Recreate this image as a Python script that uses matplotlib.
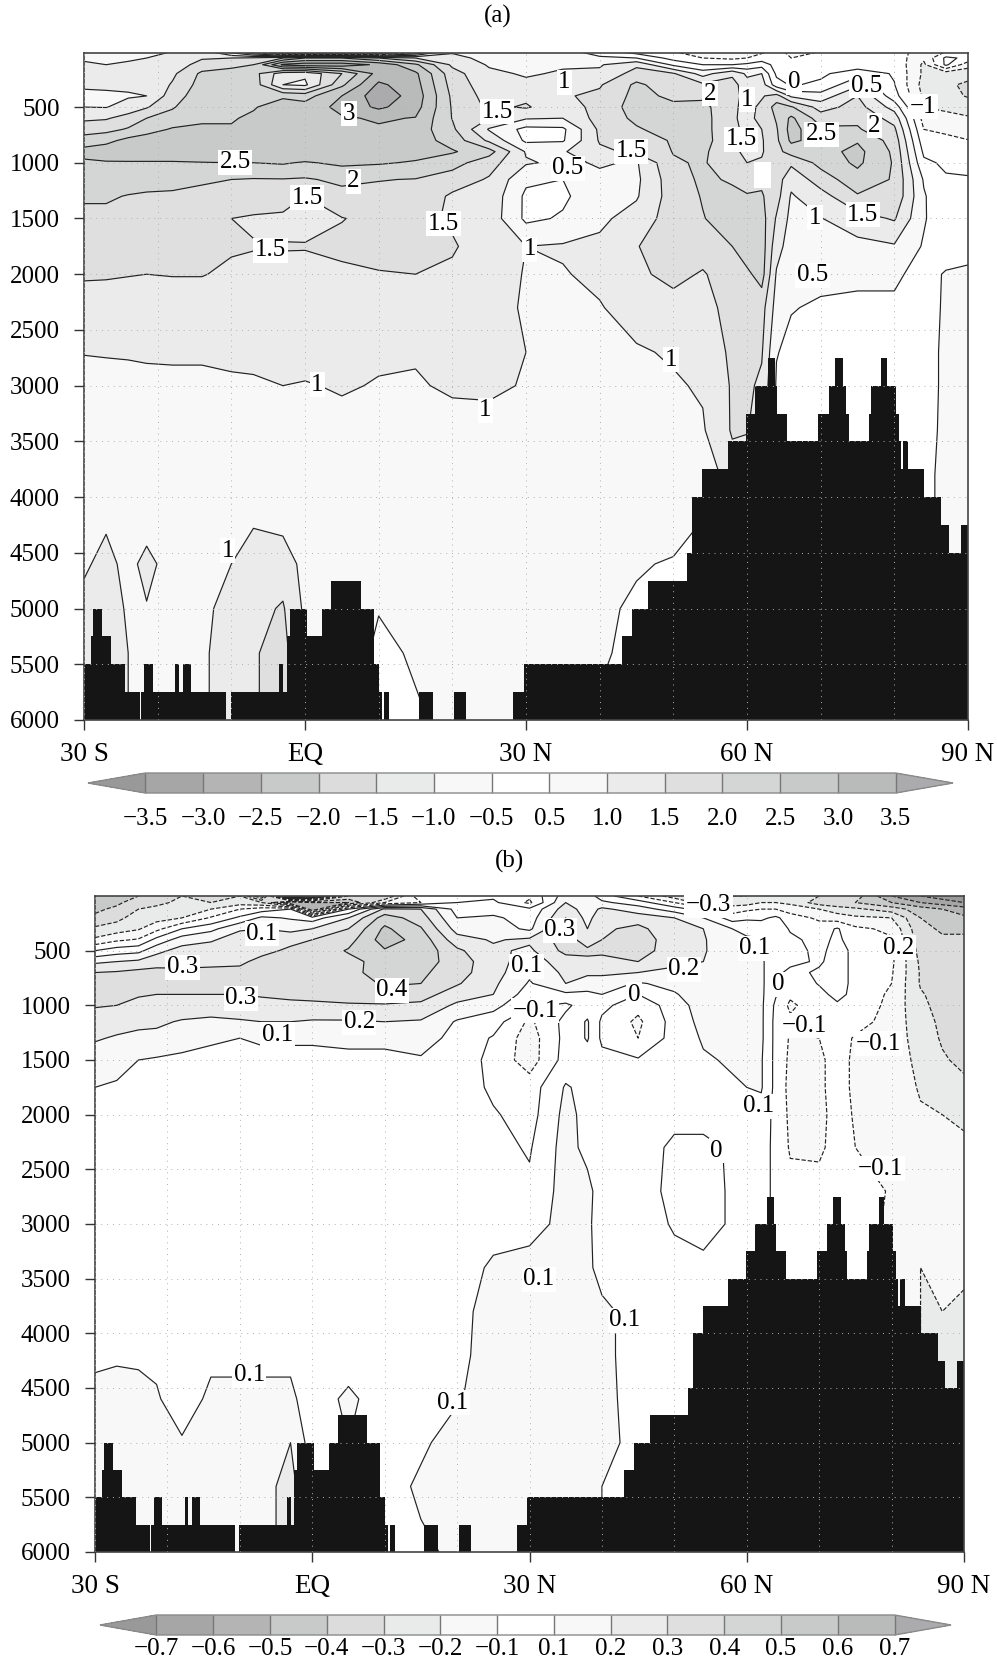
from matplotlib import pyplot as plt
import matplotlib.patches as mpatches
import numpy as np

plt.rcParams['font.family'] = ['Liberation Serif', 'DejaVu Serif']

W, H = 997, 1663

depth = [0, 60, 120, 200, 300, 400, 500, 600, 700, 800, 900, 1000, 1150, 1300, 1500, 1750, 2000,
         2300, 2700, 3000, 3400, 3800, 4200, 4600, 5000, 5400, 6000]

lon_a = [-30, -27, -24, -21.5, -18, -14, -10, -7, -3, 0, 5, 10, 15, 20, 25, 30, 35, 40, 45, 50, 54,
         58, 60, 62, 64, 66, 70, 75, 80, 84, 87, 90]

# one line per latitude, top to bottom in depth
field_a = [
    [.9, .95, 1.05, 1.1, 1.1, .85, 1.0, 1.4, 1.8, 2.2, 2.7, 2.4, 2.2, 2.05, 1.9, 1.7, 1.55, 1.3, 1.01, .9, .8, .75, .9, .95, 1.1, 1.1, 1.1],
    [.9, .95, 1.0, 1.1, 1.1, .9, .98, 1.45, 1.85, 2.35, 2.8, 2.45, 2.2, 2.05, 1.9, 1.7, 1.55, 1.25, 1.02, .9, .85, .8, .95, 1.1, 1.2, 1.2, 1.2],
    [.95, .95, 1.05, 1.15, 1.1, .95, 1.2, 1.7, 2.05, 2.65, 2.85, 2.45, 2.2, 1.98, 1.85, 1.65, 1.52, 1.25, 1.03, .9, .85, .8, .8, .9, .95, 1.0, 1.0],
    [1.0, 1.0, 1.1, 1.15, 1.1, 1.0, 1.45, 2.0, 2.3, 2.75, 2.85, 2.45, 2.15, 1.95, 1.85, 1.65, 1.5, 1.25, 1.05, .9, .85, .8, .85, 1.1, .98, .9, .9],
    [1.0, 1.05, 1.2, 1.4, 1.55, 1.75, 1.95, 2.2, 2.55, 2.8, 2.85, 2.45, 2.1, 1.95, 1.85, 1.65, 1.52, 1.25, 1.05, .92, .85, .8, .8, .85, .9, .95, .95],
    [1.2, 1.45, 1.7, 2.1, 2.2, 2.3, 2.4, 2.45, 2.55, 2.8, 2.85, 2.48, 2.05, 1.9, 1.8, 1.6, 1.52, 1.25, 1.05, .92, .85, .8, .85, 1.0, .9, .95, .95],
    [.2, 1.5, 1.9, 2.15, 2.2, 2.3, 2.4, 2.45, 2.55, 2.85, 2.9, 2.5, 2.0, 1.85, 1.5, 1.55, 1.42, 1.25, 1.07, .95, .85, .82, .85, 1.0, 1.15, 1.15, 1.15],
    [-1, 1.6, 2, 2.2, 2.3, 2.35, 2.45, 2.6, 2.8, 2.9, 2.9, 2.5, 1.97, 1.75, 1.45, 1.52, 1.4, 1.22, 1.1, .95, .85, .82, .95, 1.2, 1.35, 1.45, 1.45],
    [-3, 2, 3.6, 1.2, 1.0, 2.4, 2.8, 2.85, 2.9, 2.95, 2.95, 2.55, 1.98, 1.75, 1.4, 1.52, 1.4, 1.25, 1.1, 1.0, .85, .82, .85, 1.25, 1.55, 1.7, 1.7],
    [-3.2, 2.5, 3.8, 1.1, .9, 2.3, 2.7, 2.9, 2.95, 2.95, 2.95, 2.45, 1.95, 1.5, 1.38, 1.52, 1.38, 1.25, 1.12, .98, .88, .82, .82, .85, .9, .9, .9],
    [-3, 2.5, 3.8, 2, 2.4, 3, 3.15, 2.95, 2.9, 2.85, 2.85, 2.6, 2.1, 1.85, 1.48, 1.62, 1.4, 1.25, 1.12, 1.03, .9, .85, .82, .8, .8, .8, .8],
    [-3, 2, 3.4, 3.2, 3.6, 3.8, 3.6, 3.05, 2.95, 2.9, 2.85, 2.55, 2.02, 1.85, 1.65, 1.62, 1.48, 1.25, 1.05, .98, .9, .85, .8, .75, .52, .4, .35],
    [-1, 1.5, 2.6, 3.1, 3.2, 3.3, 3.2, 2.98, 2.8, 2.75, 2.7, 2.45, 1.98, 1.85, 1.65, 1.6, 1.5, 1.25, 1.02, .98, .85, .75, .7, .65, .6, .55, .45],
    [.9, 1.2, 1.4, 1.7, 1.8, 1.9, 1.95, 1.98, 2.1, 2.3, 2.55, 2.2, 1.75, 1.42, 1.43, 1.55, 1.42, 1.15, 1.08, 1.03, .92, .7, .65, .65, .62, .6, .6],
    [.6, .8, .95, 1.1, 1.2, 1.3, 1.4, 1.5, .95, 1.4, 2.2, 1.7, 1.45, 1.35, 1.3, 1.25, 1.15, 1.1, 1.12, 1.05, .9, .8, .75, .7, .65, .6, .6],
    [.6, .8, .9, .95, 1.1, 1.4, 1.55, 1.05, .35, .4, .95, 1.05, .6, .4, .4, 1.0, .98, .97, 1.0, .98, .9, .85, .8, .75, .7, .65, .6],
    [.7, .85, .95, 1.05, 1.2, 1.45, 1.2, 1.0, .4, .45, .95, .9, .5, .42, .55, 1.05, .97, .95, .92, .9, .85, .8, .75, .7, .65, .6, .6],
    [.2, .6, .95, 1.1, 1.45, 1.6, 1.7, 1.7, 1.6, 1.55, 1.4, 1.05, .9, .8, .9, 1.1, 1.1, .97, .9, .85, .8, .75, .7, .65, .6, .55, .45],
    [-.3, .5, 1.4, 1.7, 2.1, 2.15, 2.2, 2.1, 1.95, 1.75, 1.6, .95, .9, .95, 1.2, 1.48, 1.4, 1.2, .95, .9, .85, .8, .75, .55, .42, .4, .4],
    [-.5, -.2, .4, 1.55, 1.7, 1.9, 2.1, 2.2, 2.2, 2.05, 2.02, 1.95, 1.8, 1.75, 1.75, 1.75, 1.65, 1.3, 1.05, .95, .85, .8, .75, .45, .4, .4, .4],
    [-.8, -.5, 0, .8, 1.6, 1.9, 2.15, 2.2, 2.2, 2.2, 2.1, 2.05, 2.08, 2.03, 1.98, 1.75, 1.45, 1.3, 1.15, 1.05, .95, .6, .5, .45, .4, .4, .4],
    [-1, -.6, 0, 1.4, 1.7, 1.7, 1.6, 1.55, 1.55, 1.6, 1.6, 1.7, 1.95, 2.1, 2.2, 2.0, 1.8, 1.7, 1.6, 1.55, 1.55, 1.3, .8, .7, .6, .5, .5],
    [-.8, -.5, .1, .9, 1.2, 1.3, 1.35, 1.4, 1.45, 1.4, 1.4, 1.5, 1.75, 2.05, 2.2, 2.3, 1.9, 1.7, 1.65, 1.6, 1.55, 1, .8, .7, .6, .5, .5],
    [-.6, -.3, .3, 1.0, 1.25, 1.45, 1.6, 1.6, 1.5, 1.45, 1.45, 1.55, 1.9, 2.05, 2.2, 2.25, 2.2, 1.7, 1.55, 1.4, 1.0, .8, .7, .6, .5, .5, .5],
    [-.4, -.3, -.2, -.1, .2, 1.7, 2.2, 2.05, 1.95, 1.9, 1.85, 1.8, 1.75, 1.7, 1.45, 1.2, .95, .8, .52, .45, .4, .4, .4, .4, .4, .4, .4],
    [-.6, -.5, -.4, -.2, -.05, .9, 2.05, 2.6, 2.7, 2.6, 2.2, 1.6, 1.15, .95, .85, .75, .65, .52, .4, .35, .3, .3, .3, .3, .3, .3, .3],
    [-.5, -.4, -.3, -.1, .1, .7, 1.3, 1.75, 2.1, 2.3, 2.3, 2.15, 1.75, 1.3, .98, .8, .6, .45, .35, .3, .3, .3, .3, .3, .3, .3, .3],
    [-.5, -.4, -.3, .3, .9, 1.5, 1.7, 1.9, 2.05, 2.45, 2.65, 2.6, 2.3, 1.95, 1.3, .85, .55, .45, .35, .3, .3, .3, .3, .3, .3, .3, .3],
    [-.2, -.2, -.1, -.05, .02, .2, .8, 1.3, 1.6, 1.8, 1.9, 1.95, 1.95, 1.9, 1.55, .95, .6, .4, .3, .3, .3, .3, .3, .3, .3, .3, .3],
    [-.8, -.9, -1.1, -1.1, -1.2, -1.1, -1.0, -.7, -.5, -.3, -.1, .1, .45, .55, .55, .45, .3, .35, .4, .4, .42, .45, .45, .45, .45, .45, .45],
    [-.5, .1, .1, -1.3, -1.4, -1.3, -1.1, -.85, -.58, -.4, -.25, -.08, .05, .1, .15, .2, .55, .55, .55, .55, .55, .55, .55, .55, .55, .55, .55],
    [-.5, -.1, -.8, -1.3, -1.6, -1.55, -1.2, -.95, -.75, -.48, -.3, -.1, .03, .1, .2, .4, .55, .6, .6, .6, .6, .6, .6, .6, .6, .6, .6],
]

lon_b = [-30, -27, -24, -21.5, -18, -14, -10, -7, -3, 0, 5, 10, 15, 20, 25, 30, 35, 38, 40, 45, 50, 54,
         58, 60, 62, 64, 66, 70, 72.5, 75, 80, 84, 87, 90]

field_b = [
    [-.5, -.45, -.42, -.38, -.28, -.18, 0, .18, .3, .36, .38, .31, .24, .21, .15, .1, .08, .07, .06, .05, .05, .06, .08, .13, .13, .13, .13],
    [-.45, -.42, -.38, -.33, -.25, -.12, .05, .2, .31, .36, .36, .3, .24, .19, .13, .09, .07, .07, .06, .05, .05, .06, .09, .13, .13, .13, .13],
    [-.4, -.35, -.3, -.25, -.21, -.09, .07, .22, .33, .36, .31, .27, .22, .18, .1, .08, .07, .07, .06, .05, .05, .06, .09, .12, .12, .12, .12],
    [-.35, -.32, -.28, -.24, -.13, .03, .17, .26, .33, .37, .3, .27, .22, .17, .09, .07, .07, .07, .06, .05, .05, .06, .08, .11, .13, .13, .13],
    [-.3, -.28, -.25, -.2, 0, .15, .24, .27, .32, .37, .3, .27, .19, .12, .09, .07, .07, .07, .06, .05, .05, .05, .05, .05, .11, .12, .12],
    [-.35, -.3, -.2, -.09, .07, .19, .24, .27, .33, .37, .3, .25, .18, .11, .08, .06, .06, .06, .05, .05, .05, .05, .08, .12, .12, .12, .12],
    [-.3, -.25, -.1, .02, .19, .24, .26, .28, .33, .37, .3, .26, .19, .1, .08, .06, .06, .06, .05, .05, .05, .05, .08, .12, .12, .12, .12],
    [-.6, -.3, -.05, .12, .2, .24, .27, .33, .35, .38, .31, .27, .2, .11, .08, .07, .06, .06, .05, .05, .05, .05, .08, .12, .14, .15, .15],
    [.5, -.6, 0, .09, .17, .27, .32, .33, .35, .38, .33, .27, .2, .11, .08, .07, .06, .06, .05, .05, .05, .05, .08, .12, .2, .25, .25],
    [.3, -.5, -.6, .05, .2, .3, .33, .34, .36, .38, .33, .28, .19, .11, .08, .07, .06, .06, .05, .05, .05, .05, .05, .05, .05, .05, .05],
    [-.3, -.5, 0, .2, .3, .36, .41, .37, .38, .36, .34, .29, .19, .12, .08, .07, .06, .06, .05, .05, .05, .05, .05, .12, .1, .05, .05],
    [-.4, -.2, .32, .45, .52, .55, .49, .44, .43, .41, .37, .29, .2, .12, .08, .06, .05, .05, .05, .05, .05, .05, .05, .05, .08, .05, .05],
    [-.02, -.1, .3, .35, .41, .46, .47, .45, .42, .4, .34, .28, .19, .14, .09, .07, .06, .05, .05, .05, .05, .04, .04, .04, .08, .12, .08],
    [-.05, 0, .06, .1, .16, .24, .32, .35, .34, .31, .25, .18, .09, .07, .06, .06, .05, .05, .04, .04, .04, .06, .07, .09, .15, .12, .12],
    [-.02, .02, .05, .12, .15, .19, .22, .24, .24, .22, .2, .13, .05, -.01, -.03, -.02, .01, .03, .04, .05, .12, .15, .15, .15, .15, .15, .15],
    [-.08, -.12, .02, .05, .08, .22, .18, .15, .12, .09, .05, .02, -.12, -.15, -.15, -.05, -.04, -.01, .02, .05, .15, .15, .15, .15, .15, .15, .15],
    [.15, .2, .25, .3, .33, .35, .33, .25, .22, .2, .08, -.02, .03, .03, .04, .11, .13, .14, .14, .14, .15, .15, .15, .15, .15, .15, .15],
    [.15, .15, .15, .17, .2, .25, .32, .28, .22, .15, .08, .05, .11, .11, .05, .07, .07, .07, .13, .12, .13, .13, .13, .13, .13, .13, .13],
    [.05, .12, .22, .26, .28, .3, .32, .27, .22, .15, .1, .03, -.02, -.02, .03, .05, .05, .05, .05, .05, .05, .13, .13, .13, .13, .1, .1],
    [-.1, .05, .15, .25, .33, .36, .35, .3, .2, .09, 0, -.07, -.12, -.1, .01, .03, .05, .05, .05, .05, .05, .05, .05, .06, .07, .05, .05],
    [-.25, -.1, .05, .2, .22, .24, .24, .22, .18, .13, .09, .05, .04, .04, .04, .03, .03, -.02, -.03, -.01, .03, .03, .03, .03, .03, .03, .03],
    [-.32, -.25, -.05, .1, .2, .21, .21, .2, .18, .17, .16, .15, .13, .11, .09, .04, .03, -.02, -.03, -.03, .02, .03, .03, .03, .03, .03, .03],
    [-.3, -.25, -.15, -.05, .1, .12, .13, .13, .13, .13, .12, .12, .12, .12, .11, .09, .03, .01, .01, .01, .03, .03, .03, .03, .03, .03, .03],
    [-.3, -.25, -.12, -.02, .08, .11, .13, .12, .11, .12, .12, .12, .12, .12, .11, .1, .05, .05, .05, .05, .05, .05, .05, .05, .05, .05, .05],
    [-.25, -.2, -.1, -.02, .06, .11, .12, .12, .12, .12, .12, .12, .12, .12, .11, .11, .06, .05, .05, .05, .05, .05, .05, .05, .05, .05, .05],
    [-.25, -.2, -.1, .02, .06, .03, .03, .02, .02, .02, .01, -.02, -.03, -.03, -.03, -.03, -.03, -.03, -.03, -.03, -.03, -.03, -.03, -.03, -.03, -.03, -.03],
    [-.25, -.22, -.15, -.05, -.01, .02, .03, .02, -.02, -.05, -.08, -.12, -.08, -.11, -.12, -.13, -.12, -.11, -.07, -.05, -.04, -.04, -.04, -.04, -.04, -.04, -.04],
    [-.3, -.35, -.2, -.12, -.05, -.03, -.02, -.01, .01, .005, -.02, -.04, -.08, -.1, -.12, -.12, -.13, -.12, -.06, -.04, -.04, -.04, -.04, -.04, -.04, -.04, -.04],
    [-.3, -.38, -.25, -.15, .01, .02, .03, .03, .03, .03, .02, -.01, -.05, -.06, -.06, -.06, -.06, -.06, -.05, -.05, -.05, -.05, -.05, -.05, -.05, -.05, -.05],
    [-.35, -.4, -.28, -.18, -.08, -.05, -.02, -.02, -.02, -.02, -.02, -.03, -.06, -.11, -.12, -.12, -.11, -.1, -.05, -.05, -.05, -.05, -.05, -.05, -.05, -.05, -.05],
    [-.6, -.5, -.35, -.2, -.12, -.09, -.08, -.08, -.09, -.1, -.12, -.13, -.14, -.14, -.14, -.14, -.13, -.13, -.11, -.12, -.12, -.12, -.12, -.12, -.12, -.12, -.12],
    [-.7, -.6, -.45, -.4, -.38, -.36, -.34, -.32, -.31, -.31, -.29, -.28, -.26, -.25, -.23, -.21, -.19, -.15, -.14, -.18, -.2, -.2, -.2, -.2, -.2, -.2, -.2],
    [-.75, -.65, -.5, -.45, -.41, -.39, -.37, -.36, -.35, -.34, -.34, -.33, -.32, -.31, -.29, -.24, -.2, -.17, -.15, -.15, -.17, -.2, -.2, -.2, -.2, -.2, -.2],
    [-.8, -.7, -.55, -.48, -.42, -.38, -.37, -.36, -.35, -.35, -.34, -.34, -.33, -.33, -.32, -.28, -.22, -.18, -.15, -.15, -.18, -.22, -.2, -.2, -.2, -.2, -.2],
]

# sea floor steps, same in both panels
bathy_edges = [-30, -29.1, -28.8, -27.5, -26.3, -24.4, -22.4, -22.2, -21.9, -20.7, -17.6, -17.1, -16.6, -15.5,
               -10.7, -10.1, -3.5, -3.0, -2.5, -2.05, 0.3, 2.25, 3.5, 7.6, 9.3, 10.1, 10.4, 10.7, 11.4, 15.5,
               17.4, 20.2, 21.9, 28.3, 29.7, 43.0, 44.4, 46.6, 51.9, 52.6, 53.9, 57.4, 59.9, 61.1, 62.8, 63.8,
               64.1, 65.4, 69.7, 71.1, 71.9, 73.0, 73.5, 73.8, 76.6, 76.9, 78.2, 79.0, 80.2, 80.6, 80.9, 81.2,
               81.9, 84.0, 86.4, 87.4, 89.0, 90]
bathy_depth = [5500, 5250, 5000, 5250, 5500, 5750, 6000, 5750, 5500, 5750, 5500, 5750, 5500,
               5750, 6000, 5750, 5500, 5750, 5250, 5000, 5250, 5000, 4750, 5000, 5500, 5750, 6000, 5750, 6000,
               5750, 6000, 5750, 6000, 5750, 5500, 5250, 5000, 4750, 4500, 4000, 3750, 3500, 3250, 3000, 2750,
               3000, 3250, 3500, 3250, 3000, 2750, 3000, 3250, 3500, 3250, 3000, 2750, 3000, 3250, 3500, 3750,
               3500, 3750, 4000, 4250, 4500, 4250]

levels_a = [-3.5, -3.0, -2.5, -2.0, -1.5, -1.0, -0.5, 0.5, 1.0, 1.5, 2.0, 2.5, 3.0, 3.5]
levels_b = [-0.7, -0.6, -0.5, -0.4, -0.3, -0.2, -0.1, 0.1, 0.2, 0.3, 0.4, 0.5, 0.6, 0.7]
lines_a = [-3.5, -3.0, -2.5, -2.0, -1.5, -1.0, -0.5, 0, 0.5, 1.0, 1.5, 2.0, 2.5, 3.0, 3.5]
lines_b = [-0.7, -0.6, -0.5, -0.4, -0.3, -0.2, -0.1, 0, 0.1, 0.2, 0.3, 0.4, 0.5, 0.6, 0.7]
greys = ['#999999', '#a6a6a6', '#b4b4b4', '#c8caca', '#dcdcdc', '#e9ebea', '#f8f8f8', '#ffffff',
         '#f8f8f8', '#ebebeb', '#dfdfdf', '#d4d6d6', '#c8caca', '#b9bbbb', '#ababad']

xticks = [-30, 0, 30, 60, 90]
xticklabels = ['30 S', 'EQ', '30 N', '60 N', '90 N']
yticks = [500, 1000, 1500, 2000, 2500, 3000, 3500, 4000, 4500, 5000, 5500, 6000]

labels_a = [('3', 6.0, 562), ('2.5', -9.5, 997), ('2', 6.6, 1168), ('1.5', 0.3, 1312), ('1.5', -4.7, 1786),
            ('1.5', 18.8, 1546), ('1.5', 26.1, 541), ('1', 35.2, 277), ('2', 55, 382), ('1', 60, 436),
            ('0', 66.4, 277), ('0.5', 76.2, 307), ('\u22121', 83.9, 496), ('1.5', 59.2, 787), ('2.5', 70.1, 742),
            ('2', 77.3, 667), ('1.5', 44.3, 898), ('0.5', 35.7, 1048), ('1', 69.2, 1492), ('1.5', 75.7, 1468),
            ('1', 30.5, 1777), ('0.5', 68.9, 2011), ('1', 49.7, 2767), ('1', 1.7, 2992), ('1', 24.5, 3220),
            ('1', -10.5, 4481)]
labels_b = [('0.1', -6.95, 345), ('0.3', -17.9, 651), ('0.3', -9.85, 935), ('0.4', 11, 864), ('0.2', 6.5, 1155),
            ('0.1', -4.8, 1271), ('0.3', 34.2, 315), ('\u22120.3', 54.7, 85), ('0.1', 61.1, 476), ('0.2', 81, 473),
            ('0.1', 29.6, 641), ('0.2', 51.3, 672), ('0', 64.4, 809), ('0', 44.4, 904), ('\u22120.1', 30.8, 1048),
            ('\u22120.1', 67.9, 1185), ('\u22120.1', 78.2, 1353), ('0.1', 61.6, 1925), ('0', 55.8, 2331),
            ('\u22120.1', 78.5, 2493), ('0.1', 31.3, 3507), ('0.1', 43.2, 3879), ('0.1', -8.7, 4384),
            ('0.1', 19.4, 4634)]


def axes_px(left, top, right, bottom):
    return fig.add_axes([left / W, 1 - bottom / H, (right - left) / W, (bottom - top) / H])


def draw_panel(box, lon, field, levels, lines, labels, top):
    ax = axes_px(*box)
    z = np.array(field).T
    cf = ax.contourf(lon, depth, z, levels=levels, colors=greys, extend='both', zorder=1)
    ax.contour(lon, depth, z, levels=lines, colors='#222222', linewidths=0.85, zorder=2)
    ax.bar(bathy_edges[:-1], 6000 - np.array(bathy_depth), width=np.diff(bathy_edges), bottom=bathy_depth,
           align='edge', color='#151515', linewidth=0, zorder=2.2)
    ax.set_xlim(-30, 90)
    ax.set_ylim(6000, top)
    ax.set_xticks(xticks)
    ax.set_xticklabels(xticklabels, fontsize=19.5)
    ax.set_xticks(range(-30, 100, 10), minor=True)
    ax.set_yticks(yticks)
    ax.set_yticklabels([str(v) for v in yticks], fontsize=18)
    ax.tick_params(which='major', length=7.5, width=1, color='#333333')
    ax.tick_params(axis='y', which='major', pad=10)
    ax.tick_params(axis='x', which='major', pad=8)
    ax.tick_params(which='minor', length=0)
    ax.set_axisbelow(False)
    ax.grid(which='both', color='#b0b0b0', linestyle=(0, (1, 5)), linewidth=0.7)
    for s in ax.spines.values():
        s.set_color('#444444')
        s.set_linewidth(1.2)
    for txt, x, y in labels:
        ax.text(x, y, txt, fontsize=18, ha='center', va='center', zorder=4,
                bbox=dict(facecolor='white', edgecolor='none', pad=1))
    return ax, cf


def draw_colorbar(cf, box, levels, pad):
    cax = axes_px(*box)
    cb = fig.colorbar(cf, cax=cax, orientation='horizontal', extendfrac=0.0765, drawedges=True)
    cb.set_ticks(levels)
    cb.set_ticklabels([('%.1f' % v).replace('-', '\u2212') for v in levels])
    cb.ax.tick_params(length=0, labelsize=18, pad=pad)
    cb.ax.minorticks_off()
    cb.outline.set_edgecolor('#8a8a8a')
    cb.outline.set_linewidth(1)
    cb.dividers.set_color('#777777')
    cb.dividers.set_linewidth(1)


fig = plt.figure(figsize=(W / 100, H / 100), dpi=100)

ax_a, cf_a = draw_panel((84, 53, 968, 720), lon_a, field_a, levels_a, lines_a, labels_a, 15)
# blanked box left in the original above the deep patch
ax_a.add_patch(mpatches.Rectangle((61.0, 997), 2.3, 225, facecolor='white', edgecolor='none', zorder=3))
ax_b, cf_b = draw_panel((95, 896, 964, 1552), lon_b, field_b, levels_b, lines_b, labels_b, 0)

draw_colorbar(cf_a, (88, 773, 953, 793), levels_a, 11)
draw_colorbar(cf_b, (100, 1615, 951, 1635), levels_b, 2)

fig.text(498 / W, 1 - 16 / H, '(a)', fontsize=18, ha='center', va='center')
fig.text(509 / W, 1 - 861 / H, '(b)', fontsize=18, ha='center', va='center')

fig.savefig('out.png', dpi=100)
